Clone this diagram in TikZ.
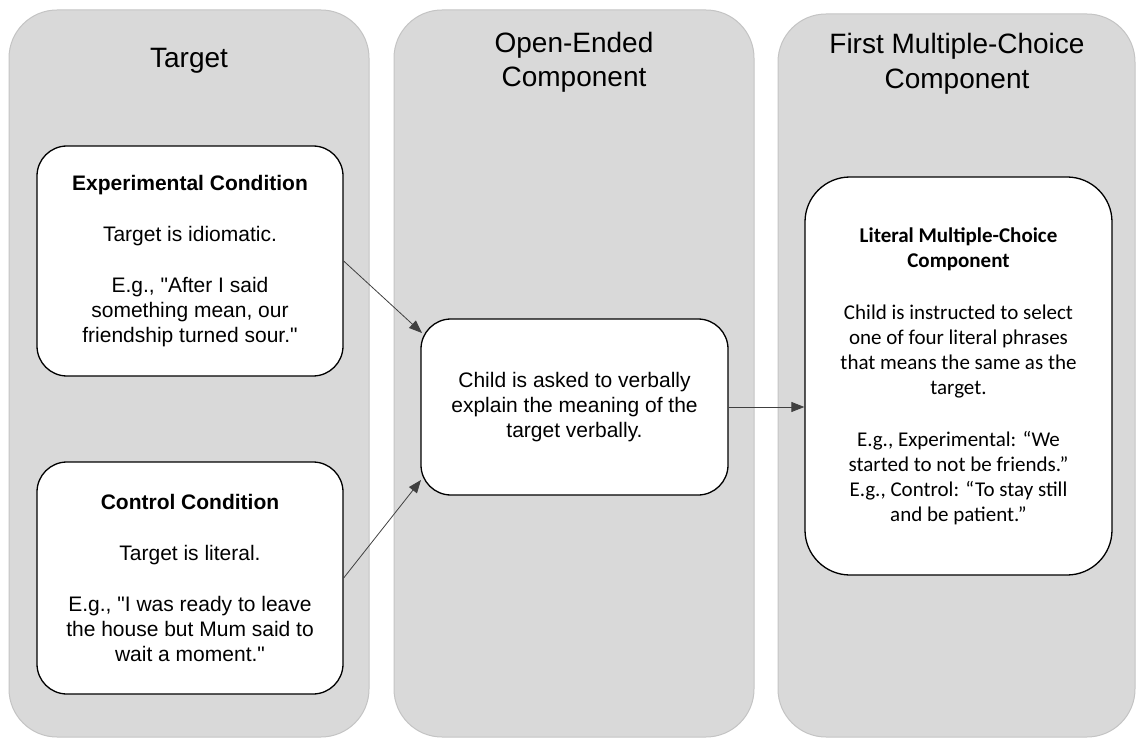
\documentclass[tikz,border=0pt]{standalone}
\usepackage{fontspec}
\setmainfont{Liberation Sans}[Ligatures=TeXOff]
\newfontfamily\calibri{Carlito}
\usetikzlibrary{arrows.meta}
\definecolor{panelfill}{HTML}{D9D9D9}
\definecolor{panelline}{HTML}{C4C4C4}
\definecolor{arrowcol}{HTML}{404040}
\begin{document}
\begin{tikzpicture}[x=1pt,y=-1pt,
  panel/.style={draw=panelline, line width=1pt, fill=panelfill, rounded corners=48pt, inner sep=0pt},
  paneltitle/.style={anchor=base, inner sep=0pt, font=\fontsize{28}{34}\selectfont},
  box/.style={draw=black, line width=1.3pt, fill=white, rounded corners=30pt, inner sep=0pt, align=center, font=\fontsize{21}{25}\selectfont},
  arr/.style={draw=arrowcol, line width=0.8pt, -{Triangle[length=13pt,width=10pt]}}
]
\useasboundingbox (0,0) rectangle (1136,738);
% panels
\node[panel, minimum width=360pt, minimum height=727pt] (p1) at (189,373.5) {};
\node[panel, minimum width=360pt, minimum height=727pt] (p2) at (574,373.5) {};
\node[panel, minimum width=357pt, minimum height=723pt] (p3) at (956.5,375.5) {};
% titles
\node[paneltitle] (t1) at (189,68) {Target};
\node[paneltitle] (t2a) at (574,53) {Open-Ended};
\node[paneltitle] (t2b) at (574,87) {Component};
\node[paneltitle] (t3a) at (957,54) {First Multiple-Choice};
\node[paneltitle] (t3b) at (957,89) {Component};
% boxes
\node[box, minimum width=306pt, minimum height=230pt] (b1) at (190,261)
  {{\bfseries Experimental Condition}\\[26pt]
   Target is idiomatic.\\[26pt]
   E.g., "After I said\\
   something mean, our\\
   friendship turned sour."};
\node[box, minimum width=306pt, minimum height=232pt] (b2) at (190,578)
  {{\bfseries Control Condition}\\[26pt]
   Target is literal.\\[26pt]
   E.g., "I was ready to leave\\
   the house but Mum said to\\
   wait a moment."};
\node[box, minimum width=307pt, minimum height=176pt] (mid) at (574.5,407)
  {Child is asked to verbally\\
   explain the meaning of the\\
   target verbally.};
\node[box, rounded corners=45pt, minimum width=307pt, minimum height=398pt, font=\fontsize{21}{25}\calibri] (rb) at (958.5,376)
  {{\bfseries Literal Multiple-Choice}\\
   {\bfseries Component}\\[27pt]
   Child is instructed to select\\
   one of four literal phrases\\
   that means the same as the\\
   target.\\[27pt]
   E.g., Experimental: “We\\
   started to not be friends.”\\
   E.g., Control: “To stay still\\
   and be patient.”};
% connectors
\coordinate (m1) at (422,333);
\coordinate (m2) at (421,480);
\draw[arr] (b1.east) -- (m1);
\draw[arr] (b2.east) -- (m2);
\draw[arr] (mid.east) -- (mid.east -| rb.west);
\end{tikzpicture}
\end{document}
